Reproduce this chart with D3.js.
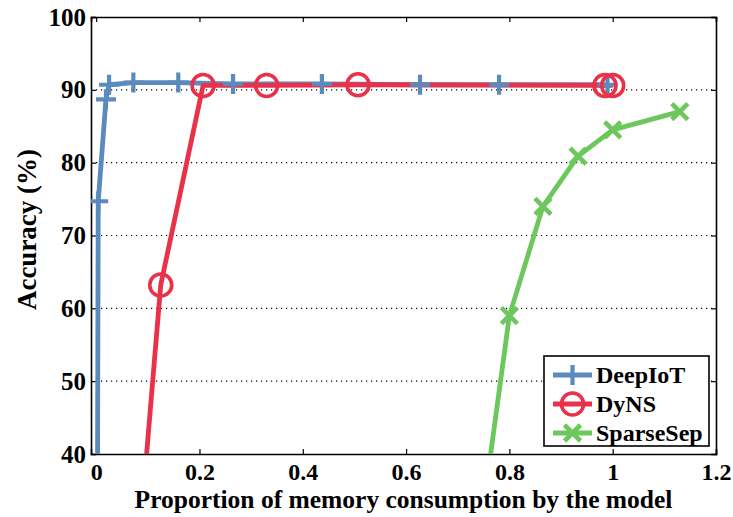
<!DOCTYPE html>
<html>
<head>
<meta charset="utf-8">
<script src="https://cdn.jsdelivr.net/npm/d3@7"></script>
<style>
  body { margin: 0; background: #fff; }
  text { font-family: "Liberation Serif", "Times New Roman", serif; font-weight: bold; }
</style>
</head>
<body>
<div id="chart"></div>
<script>
// data
const seriesNames = ['DeepIoT', 'DyNS', 'SparseSep']
const deepX = [0.002, 0.004, 0.019, 0.025, 0.072, 0.159, 0.265, 0.437, 0.627, 0.78, 0.99]
const deepY = [20, 74.7, 88.7, 90.7, 91.0, 91.0, 90.8, 90.8, 90.7, 90.7, 90.7]
const dynsX = [0.08, 0.125, 0.207, 0.33, 0.507, 0.985, 1.0]
const dynsY = [25, 63.2, 90.6, 90.6, 90.7, 90.6, 90.6]
const sparseX = [0.735, 0.8, 0.865, 0.933, 1.0, 1.13]
const sparseY = [25, 59.0, 74.0, 80.9, 84.5, 87.0]
const xTicks = [0, 0.2, 0.4, 0.6, 0.8, 1, 1.2]
const yTicks = [40, 50, 60, 70, 80, 90, 100]

const width = 733, height = 517
const plotLeft = 91, plotRight = 716, plotTop = 17, plotBottom = 454

const svg = d3.select('#chart').append('svg')
  .attr('width', width)
  .attr('height', height)

const x = d3.scaleLinear().domain([-0.01, 1.2]).range([plotLeft, plotRight])
const y = d3.scaleLinear().domain([40, 100]).range([plotBottom, plotTop])

// dotted horizontal grid
svg.append('g')
  .selectAll('line')
  .data(yTicks.slice(1, -1))
  .enter().append('line')
  .attr('x1', plotLeft).attr('x2', plotRight)
  .attr('y1', d => y(d)).attr('y2', d => y(d))
  .attr('stroke', '#000')
  .attr('stroke-width', 1.2)
  .attr('stroke-dasharray', '1.2,3.8')

// axes, ticks pointing inward like matlab
const fmt = d => String(d)
svg.append('g')
  .attr('class', 'xAxis')
  .attr('transform', `translate(0,${plotBottom})`)
  .call(d3.axisBottom(x).tickValues(xTicks).tickSize(-5).tickPadding(9).tickFormat(fmt))
svg.append('g')
  .attr('transform', `translate(${plotLeft},0)`)
  .call(d3.axisLeft(y).tickValues(yTicks).tickSize(-5).tickPadding(5).tickFormat(fmt))
svg.append('g')
  .attr('transform', `translate(0,${plotTop})`)
  .call(d3.axisTop(x).tickValues(xTicks).tickSize(-5).tickFormat(''))
svg.append('g')
  .attr('transform', `translate(${plotRight},0)`)
  .call(d3.axisRight(y).tickValues(yTicks).tickSize(-5).tickFormat(''))

svg.selectAll('.domain').attr('stroke', '#000').attr('stroke-width', 1.6)
svg.selectAll('.tick line').attr('stroke', '#000').attr('stroke-width', 1.2)
svg.selectAll('.tick text')
  .attr('fill', '#000')
  .style('font-size', '25px')
  .style('font-family', '"Liberation Serif", serif')
  .style('font-weight', 'bold')
svg.selectAll('.xAxis .tick text').style('font-size', '24px')

svg.append('text')
  .attr('x', (plotLeft + plotRight) / 2)
  .attr('y', 508)
  .attr('text-anchor', 'middle')
  .style('font-size', '25.5px')
  .text('Proportion of memory consumption by the model')

svg.append('text')
  .attr('transform', `translate(36,${(plotTop + plotBottom) / 2 - 6}) rotate(-90)`)
  .attr('text-anchor', 'middle')
  .style('font-size', '27px')
  .text('Accuracy (%)')

// series
const series = [
  { name: seriesNames[0], xs: deepX, ys: deepY, color: '#5b8bbd', marker: 'plus' },
  { name: seriesNames[1], xs: dynsX, ys: dynsY, color: '#e9314a', marker: 'circle' },
  { name: seriesNames[2], xs: sparseX, ys: sparseY, color: '#6cc75c', marker: 'cross' }
]

svg.append('clipPath').attr('id', 'plot')
  .append('rect')
  .attr('x', plotLeft).attr('y', plotTop)
  .attr('width', plotRight - plotLeft).attr('height', plotBottom - plotTop)

const plot = svg.append('g').attr('clip-path', 'url(#plot)')
const line = d3.line().x(d => x(d[0])).y(d => y(d[1]))

let drawMarker = (g, type, color) => {
  if (type === 'circle') {
    g.append('circle').attr('r', 11)
      .attr('fill', 'none').attr('stroke', color).attr('stroke-width', 3.6)
  } else if (type === 'plus') {
    g.append('path').attr('d', 'M-10,0H10M0,-10V10')
      .attr('stroke', color).attr('stroke-width', 4.2)
  } else {
    g.append('path').attr('d', 'M-8,-8L8,8M-8,8L8,-8')
      .attr('stroke', color).attr('stroke-width', 4.6)
  }
}

series.forEach(s => {
  plot.append('path')
    .datum(s.xs.map((v, i) => [v, s.ys[i]]))
    .attr('d', line)
    .attr('fill', 'none')
    .attr('stroke', s.color)
    .attr('stroke-width', 4.8)
    .attr('stroke-linejoin', 'round')
})

series.forEach(s => {
  s.xs.forEach((v, i) => {
    if (s.ys[i] < 40) return
    const g = plot.append('g').attr('transform', `translate(${x(v)},${y(s.ys[i])})`)
    drawMarker(g, s.marker, s.color)
  })
})

// legend
const legend = svg.append('g').attr('transform', 'translate(544,356)')
legend.append('rect')
  .attr('width', 165).attr('height', 90)
  .attr('fill', '#fff').attr('stroke', '#000').attr('stroke-width', 1.6)

series.forEach((s, i) => {
  const row = legend.append('g').attr('transform', `translate(0,${19 + i * 29})`)
  row.append('line')
    .attr('x1', 9).attr('x2', 48)
    .attr('stroke', s.color).attr('stroke-width', 4.8)
  const m = row.append('g').attr('transform', 'translate(28.5,0)')
  drawMarker(m, s.marker, s.color)
  row.append('text')
    .attr('x', 52).attr('y', 8)
    .style('font-size', '24px')
    .text(s.name)
})
</script>
</body>
</html>
